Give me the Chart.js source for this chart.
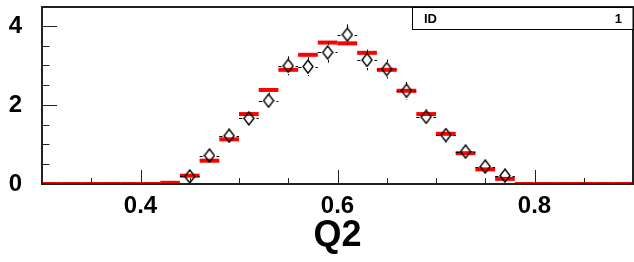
<!DOCTYPE html>
<html>
<head>
<meta charset="utf-8">
<script src="https://cdn.jsdelivr.net/npm/chart.js@4.4.0/dist/chart.umd.min.js"></script>
<style>
  html, body { margin: 0; padding: 0; background: #fff; }
</style>
</head>
<body>
<canvas id="histChart" width="634" height="262"></canvas>
<script>
// ===== histogram (red) : bin centres + contents =====
const binWidth = 0.02;
const binCenters = [0.31, 0.33, 0.35, 0.37, 0.39, 0.41, 0.43, 0.45, 0.47, 0.49,
                    0.51, 0.53, 0.55, 0.57, 0.59, 0.61, 0.63, 0.65, 0.67, 0.69,
                    0.71, 0.73, 0.75, 0.77, 0.79, 0.81, 0.83, 0.85, 0.87, 0.89];
const histValues = [0, 0, 0, 0, 0, 0, 0.03, 0.21, 0.59, 1.13,
                    1.77, 2.38, 2.89, 3.27, 3.58, 3.56, 3.32, 2.89, 2.36, 1.77,
                    1.27, 0.78, 0.37, 0.13, 0, 0, 0, 0, 0, 0];

// ===== data points (open diamonds with errors) =====
const pointX = [0.45, 0.47, 0.49, 0.51, 0.53, 0.55, 0.57, 0.59, 0.61,
                0.63, 0.65, 0.67, 0.69, 0.71, 0.73, 0.75, 0.77];
const pointY = [0.19, 0.72, 1.22, 1.66, 2.11, 2.99, 2.97, 3.33, 3.78,
                3.14, 2.91, 2.36, 1.70, 1.24, 0.82, 0.44, 0.21];
const pointErr = [0.06, 0.12, 0.15, 0.18, 0.20, 0.24, 0.24, 0.26, 0.26,
                  0.26, 0.24, 0.22, 0.18, 0.16, 0.13, 0.09, 0.06];

// ===== axes =====
const xMajor = [0.4, 0.6, 0.8];
const xLabels = ["0.4", "0.6", "0.8"];
const yMajor = [0, 2, 4];
const yLabels = ["0", "2", "4"];
const xTitle = "Q2";
const statName = "ID";
const statValue = "1";

const FONT = "'Liberation Sans', Arial, Helvetica, sans-serif";
const MW = 5, MH = 6.5; // marker half size (px)

function majorIndex(v, list) {
  return list.findIndex((m) => Math.abs(m - v) < 1e-6);
}

// no automatic label overflow padding, fixed axis boxes
function fixBox(s, size) {
  if (s.isHorizontal()) s.height = size;
  else s.width = size;
  s.paddingTop = 0;
  s.paddingBottom = 0;
  s.paddingLeft = 0;
  s.paddingRight = 0;
}

// open diamond marker
function diamondMarker() {
  const c = document.createElement("canvas");
  c.width = 2 * MW + 2;
  c.height = 2 * MH + 2;
  const g = c.getContext("2d");
  g.strokeStyle = "#000";
  g.lineWidth = 1.4;
  g.beginPath();
  g.moveTo(c.width / 2, 1);
  g.lineTo(c.width - 1, c.height / 2);
  g.lineTo(c.width / 2, c.height - 1);
  g.lineTo(1, c.height / 2);
  g.closePath();
  g.stroke();
  return c;
}

// ROOT-like frame, inner ticks, error bars and stats box
const rootStyle = {
  id: "rootStyle",
  afterDatasetsDraw(chart) {
    const { ctx, chartArea: a } = chart;
    const x = chart.scales.x, y = chart.scales.y;
    ctx.save();

    // error bars
    ctx.strokeStyle = "#000";
    ctx.lineWidth = 1;
    pointX.forEach((cx, i) => {
      const px = Math.round(x.getPixelForValue(cx)) + 0.5;
      const py = Math.round(y.getPixelForValue(pointY[i])) + 0.5;
      const top = y.getPixelForValue(pointY[i] + pointErr[i]);
      const bot = y.getPixelForValue(pointY[i] - pointErr[i]);
      const l = x.getPixelForValue(cx - binWidth / 2);
      const r = x.getPixelForValue(cx + binWidth / 2);
      ctx.beginPath();
      if (top < py - MH - 1) { ctx.moveTo(px, top); ctx.lineTo(px, py - MH - 1); }
      if (bot > py + MH + 1) { ctx.moveTo(px, py + MH + 1); ctx.lineTo(px, bot); }
      ctx.moveTo(l, py); ctx.lineTo(px - MW - 2, py);
      ctx.moveTo(px + MW + 2, py); ctx.lineTo(r, py);
      ctx.stroke();
    });

    // inner ticks
    ctx.strokeStyle = "#222";
    ctx.lineWidth = 1;
    ctx.beginPath();
    y.ticks.forEach((t) => {
      if (t.value <= 0 || t.value >= y.max) return;
      const py = Math.round(y.getPixelForValue(t.value)) + 0.5;
      const len = majorIndex(t.value, yMajor) >= 0 ? 15 : 7.5;
      ctx.moveTo(a.left, py);
      ctx.lineTo(a.left + len, py);
    });
    x.ticks.forEach((t) => {
      if (t.value <= x.min + 1e-6 || t.value >= x.max - 1e-6) return;
      const px = Math.round(x.getPixelForValue(t.value)) + 0.5;
      const len = majorIndex(t.value, xMajor) >= 0 ? 14 : 6;
      ctx.moveTo(px, a.bottom);
      ctx.lineTo(px, a.bottom - len);
    });
    ctx.stroke();

    // frame
    ctx.lineWidth = 2;
    ctx.strokeRect(a.left, a.top, a.right - a.left, a.bottom - a.top);

    // stats box
    ctx.lineWidth = 1;
    ctx.strokeStyle = "#000";
    ctx.fillStyle = "#fff";
    const bx = 412.5, by = a.top + 0.5, bw = a.right - bx, bh = 22;
    ctx.fillRect(bx, by, bw, bh);
    ctx.strokeRect(bx, by, bw, bh);
    ctx.fillStyle = "#000";
    ctx.font = "bold 13px " + FONT;
    ctx.textBaseline = "alphabetic";
    ctx.textAlign = "left";
    ctx.fillText(statName, 424, a.top + 16);
    ctx.textAlign = "right";
    ctx.fillText(statValue, 622, a.top + 16);

    ctx.restore();
  },
};

const ctx = document.getElementById("histChart").getContext("2d");
new Chart(ctx, {
  type: "scatter",
  data: {
    datasets: [
      {
        label: "data",
        data: pointX.map((v, i) => ({ x: v, y: pointY[i] })),
        pointStyle: diamondMarker(),
        pointRadius: 7,
        order: 0,
      },
      {
        label: "hist",
        data: binCenters.map((v, i) => ({ x: v, y: histValues[i] })),
        pointStyle: "line",
        pointRadius: (c) => {
          const s = c.chart.scales.x;
          return (s.getPixelForValue(binWidth) - s.getPixelForValue(0)) / 2;
        },
        borderColor: "#ff0000",
        pointBorderColor: "#ff0000",
        pointBorderWidth: 4,
        order: 1,
      },
    ],
  },
  options: {
    responsive: false,
    animation: false,
    layout: { autoPadding: false, padding: { top: 7, right: 1, left: 0, bottom: 0 } },
    plugins: {
      legend: { display: false },
      tooltip: { enabled: false },
    },
    scales: {
      x: {
        type: "linear",
        min: 0.3,
        max: 0.9,
        grid: { display: false, drawTicks: false },
        border: { display: false },
        ticks: {
          stepSize: 0.05,
          autoSkip: false,
          maxRotation: 0,
          includeBounds: false,
          padding: 8,
          color: "#000",
          font: { family: FONT, size: 24, weight: "bold" },
          callback: (v) => {
            const k = majorIndex(v, xMajor);
            return k >= 0 ? xLabels[k] : "";
          },
        },
        title: {
          display: true,
          text: xTitle,
          color: "#000",
          font: { family: FONT, size: 36, weight: "bold", lineHeight: 1.2 },
          padding: { top: 0, bottom: 4 },
        },
        afterFit: (s) => fixBox(s, 78),
      },
      y: {
        min: 0,
        max: 4.48,
        grid: { display: false, drawTicks: false },
        border: { display: false },
        ticks: {
          stepSize: 0.5,
          autoSkip: false,
          includeBounds: false,
          padding: 20,
          color: "#000",
          font: { family: FONT, size: 24, weight: "bold" },
          callback: (v) => {
            const k = majorIndex(v, yMajor);
            return k >= 0 ? yLabels[k] : "";
          },
        },
        afterFit: (s) => fixBox(s, 42),
      },
    },
  },
  plugins: [rootStyle],
});
</script>
</body>
</html>
